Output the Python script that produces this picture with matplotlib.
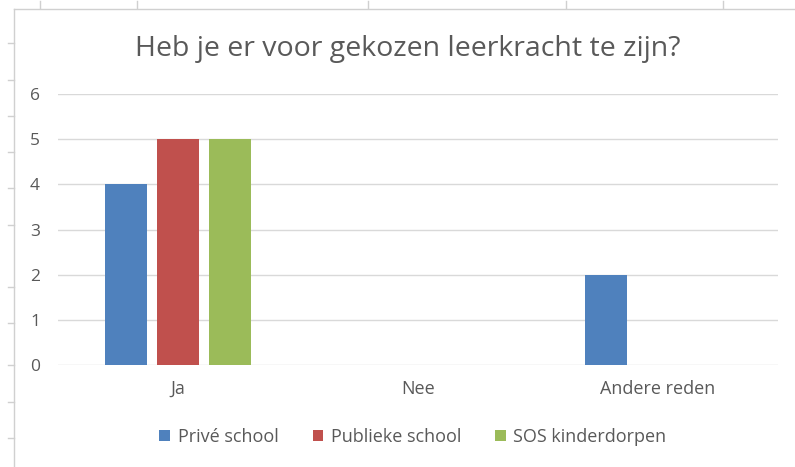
import matplotlib
matplotlib.use("Agg")
import matplotlib.pyplot as plt
from matplotlib.lines import Line2D
from matplotlib.patches import Patch

categories = ["Ja", "Nee", "Andere reden"]
series_names = ["Privé school", "Publieke school", "SOS kinderdorpen"]
prive = [4, 0, 2]
publiek = [5, 0, 0]
sos = [5, 0, 0]
yticks = [0, 1, 2, 3, 4, 5, 6]
title = "Heb je er voor gekozen leerkracht te zijn?"

colors = ["#4F81BD", "#C0504D", "#9BBB59"]
text_color = "#595959"
grid_color = "#D9D9D9"

plt.rcParams['font.family'] = ['Open Sans', 'DejaVu Sans']

W, H = 795, 467
fig = plt.figure(figsize=(W / 100, H / 100), dpi=100)
fig.patch.set_facecolor("white")

# spreadsheet background lines (decorative)
sheet = "#D0D0D0"
fig.add_artist(Line2D([14 / W, 1], [1 - 9 / H, 1 - 9 / H], color=sheet, lw=1))
fig.add_artist(Line2D([14 / W, 14 / W], [0, 1 - 9 / H], color=sheet, lw=1))
for yy in [43, 80, 116, 152, 188, 225, 287, 323, 365, 402, 438]:
    fig.add_artist(Line2D([8 / W, 14 / W], [1 - yy / H, 1 - yy / H], color=sheet, lw=1))
for xx in [40, 137, 368, 566, 723]:
    fig.add_artist(Line2D([xx / W, xx / W], [1 - 1 / H, 1 - 8 / H], color=sheet, lw=1))

ax = fig.add_axes([58 / W, (H - 365) / H, (778 - 58) / W, (365 - 94) / H])
x = list(range(len(categories)))
step = 0.217
width = 0.175
for i, (vals, name) in enumerate(zip([prive, publiek, sos], series_names)):
    ax.bar([xi + (i - 1) * step for xi in x], vals, width=width, color=colors[i],
           linewidth=0, label=name, zorder=3)

ax.set_xlim(-0.5, len(categories) - 0.5)
ax.set_ylim(0, 6)
ax.set_yticks(yticks)
ax.set_yticklabels([str(v) for v in yticks])
ax.set_xticks(x)
ax.set_xticklabels(categories)
for s in ax.spines.values():
    s.set_visible(False)
ax.yaxis.grid(True, color=grid_color, lw=1, zorder=0)
ax.tick_params(axis='y', length=0, pad=13, labelsize=12.5, labelcolor=text_color)
ax.tick_params(axis='x', length=0, pad=11, labelsize=13, labelcolor=text_color)
ax.set_facecolor("white")

fig.text(408 / W, 1 - 56 / H, title, ha='center', va='baseline', fontsize=20.5,
         color=text_color)

handles = [Patch(facecolor=c, edgecolor='none') for c in colors]
fig.legend(handles, series_names, loc='center', bbox_to_anchor=(413 / W, 1 - 437 / H),
           ncol=3, frameon=False, fontsize=13, labelcolor=text_color,
           handlelength=0.6, handleheight=0.6, handletextpad=0.4, columnspacing=1.9)

fig.savefig("out.png", dpi=100)
